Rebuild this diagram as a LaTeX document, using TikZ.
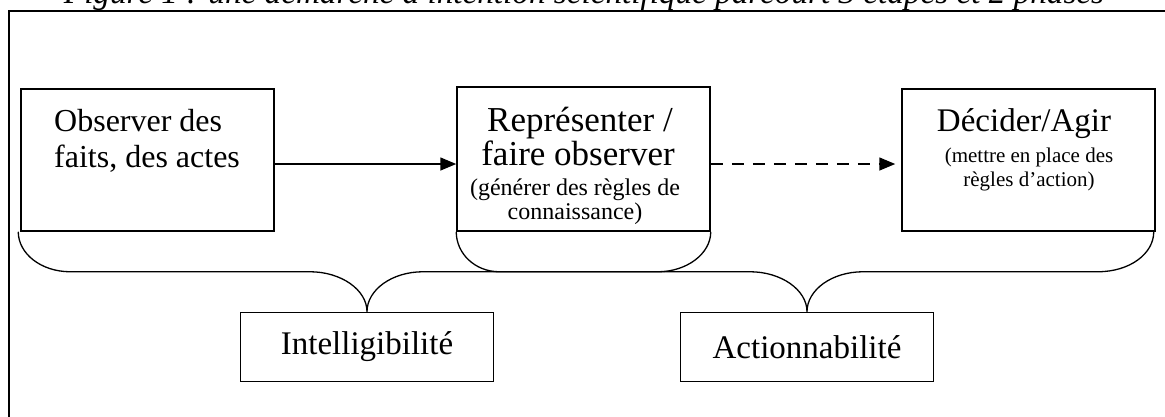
\documentclass[tikz,border=0pt]{standalone}
\usepackage{fontspec}
\setmainfont{Liberation Serif}
\usetikzlibrary{arrows.meta,calc}
\begin{document}
\begin{tikzpicture}[x=1pt,y=-1pt,
  stepbox/.style={draw,line width=1.5pt,inner sep=0pt,minimum width=253pt},
  phasebox/.style={draw,line width=1.5pt,inner sep=0pt,minimum width=253pt,minimum height=69pt,font=\fontsize{33}{38}\selectfont},
  big/.style={anchor=base,inner sep=0pt,font=\fontsize{33}{38}\selectfont},
  bigger/.style={anchor=base,inner sep=0pt,font=\fontsize{35}{40}\selectfont},
  small/.style={anchor=base,inner sep=0pt,font=\fontsize{21}{25}\selectfont},
  smallish/.style={anchor=base,inner sep=0pt,font=\fontsize{24}{28}\selectfont},
  bracepath/.style={line width=1.3pt},
  conn/.style={line width=1.5pt,-{Triangle[length=16pt,width=13pt]}}
]
\useasboundingbox (0,0) rectangle (1165,416);
\clip (0,0) rectangle (1165,416);
\fill[white] (0,0) rectangle (1165,416);
% title (cut off by the top edge, as in the reference)
\node[anchor=base,inner sep=0pt,font=\itshape\fontsize{33.2}{38}\selectfont] (title) at (584,3)
  {Figure 1 : une démarche à intention scientifique parcourt 3 étapes et 2 phases};
% outer frame
\draw[line width=2pt] (9,440) -- (9,11) -- (1190,11);
% step boxes
\node[stepbox,minimum height=142pt] (b1) at (147.5,160) {};
\node[stepbox,minimum height=144pt] (b2) at (583.5,159) {};
\node[stepbox,minimum height=142pt] (b3) at (1028.5,160) {};
% texts
\node[big,anchor=base west,font=\fontsize{32}{38}\selectfont] (t1a) at (54,131) {Observer des};
\node[big,anchor=base west,font=\fontsize{32}{38}\selectfont] (t1b) at (54,167) {faits, des actes};
\node[bigger] (t2a) at (580,131) {Représenter /};
\node[bigger] (t2b) at (578,165) {faire observer};
\node[smallish] (t2c) at (575,195) {(générer des règles de};
\node[smallish] (t2d) at (575,219) {connaissance)};
\node[big] (t3a) at (1024,131) {Décider/Agir};
\node[small] (t3b) at (1029,162) {(mettre en place des};
\node[small] (t3c) at (1029,186) {règles d’action)};
% phase boxes
\node[phasebox] (intel) at (367,347) {Intelligibilité};
\node[phasebox] (act) at (807,347) {Actionnabilité};
% arrows
\coordinate (ay) at (0,164);
\draw[conn] (b1.east |- ay) -- (b2.west |- ay);
\draw[conn,dash pattern=on 12pt off 9pt] (b2.east |- ay) -- ($(b3.west |- ay)+(-6,0)$);
% braces
\draw[bracepath] ($(b1.south west)+(-2,0)$) .. controls +(0,22) and +(-29,0) .. ++(52,40)
  -- ($(intel.north)+(-57,-40)$) .. controls +(31,0) and +(0,-22) .. (intel.north)
  .. controls +(0,-22) and +(-31,0) .. ++(56,-40)
  -- ($(b2.south east)+(-53,40)$) .. controls +(29,0) and +(0,22) .. (b2.south east);
\draw[bracepath] (b2.south west) .. controls +(0,22) and +(-24,0) .. ++(43,40)
  -- ($(act.north)+(-57,-40)$) .. controls +(31,0) and +(0,-22) .. (act.north)
  .. controls +(0,-22) and +(-31,0) .. ++(56,-40)
  -- ($(b3.south east)+(-58,40)$) .. controls +(32,0) and +(0,22) .. ($(b3.south east)+(-2,0)$);
\end{tikzpicture}
\end{document}
